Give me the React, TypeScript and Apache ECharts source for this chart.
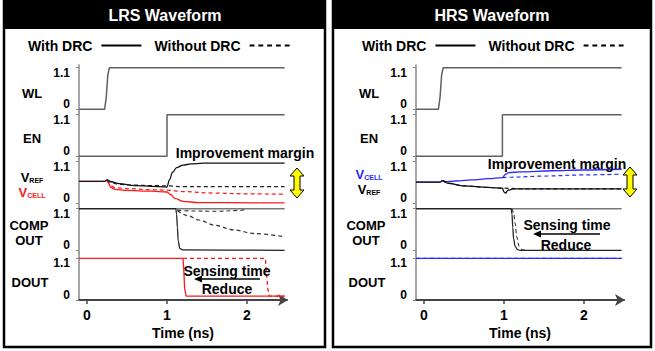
import React, { useEffect, useRef } from 'react';
import * as echarts from 'echarts';

type Pt = [number, number];

const FONT = "'Liberation Sans', Arial, sans-serif";
const X_TICKS = [0, 1, 2];
const Y_TICKS = [0, 1.1];
const LEGEND_NAMES = ['With DRC', 'Without DRC'];
const PANEL_TITLES = ['LRS Waveform', 'HRS Waveform'];
const X_NAME = 'Time (ns)';

// ---------- LRS waveform ----------
const lrsWL: Pt[] = [[-0.1, 0], [0.22, 0], [0.24, 0.3], [0.26, 0.9], [0.28, 1.1], [2.47, 1.1]];
const lrsEN: Pt[] = [[-0.1, 0], [1.0, 0], [1.0, 1.1], [2.47, 1.1]];
const lrsVrefDrc: Pt[] = [[-0.1, 0.58], [0.22, 0.58], [0.25, 0.62], [0.3, 0.57], [0.4, 0.52], [0.6, 0.47], [0.8, 0.45], [1.0, 0.43], [1.03, 0.62], [1.07, 0.82], [1.12, 0.94], [1.2, 1.01], [1.3, 1.04], [1.45, 1.06], [2.47, 1.06]];
const lrsVrefNo: Pt[] = [[0.25, 0.62], [0.3, 0.55], [0.4, 0.5], [0.6, 0.48], [0.8, 0.47], [1.0, 0.46], [1.2, 0.44], [1.5, 0.44], [2.47, 0.44]];
const lrsVcellDrc: Pt[] = [[-0.1, 0.58], [0.22, 0.58], [0.25, 0.6], [0.3, 0.42], [0.35, 0.37], [0.5, 0.34], [0.8, 0.32], [1.0, 0.3], [1.04, 0.24], [1.1, 0.13], [1.2, 0.05], [1.4, 0.02], [2.47, 0.01]];
const lrsVcellNo: Pt[] = [[0.25, 0.6], [0.3, 0.46], [0.35, 0.41], [0.5, 0.39], [0.8, 0.36], [1.0, 0.35], [1.2, 0.31], [1.6, 0.27], [2.0, 0.25], [2.47, 0.24]];
const lrsCompTop: Pt[] = [[-0.1, 1.1], [2.47, 1.1]];
const lrsCompDrc: Pt[] = [[-0.1, 1.1], [1.11, 1.1], [1.12, 0.95], [1.13, 0.6], [1.14, 0.25], [1.16, 0.05], [1.2, 0.01], [2.47, 0]];
const lrsCompNoA: Pt[] = [[1.13, 1.06], [1.3, 1.04], [1.6, 1.03], [1.9, 1.05], [2.0, 1.09]];
const lrsCompNoB: Pt[] = [[1.13, 1.05], [1.25, 0.92], [1.4, 0.8], [1.6, 0.66], [1.83, 0.54], [2.1, 0.44], [2.47, 0.36]];
const lrsDoutDrc: Pt[] = [[-0.1, 1.1], [1.2, 1.1], [1.21, 0.8], [1.22, 0.3], [1.24, 0.1], [2.47, 0.1]];
const lrsDoutNo: Pt[] = [[1.2, 1.1], [2.23, 1.1], [2.24, 0.8], [2.26, 0.3], [2.28, 0.1], [2.47, 0.1]];

// ---------- HRS waveform ----------
const hrsWL: Pt[] = [[-0.1, 0], [0.18, 0], [0.2, 0.3], [0.22, 0.9], [0.24, 1.1], [2.47, 1.1]];
const hrsEN: Pt[] = [[-0.1, 0], [0.98, 0], [0.98, 1.1], [2.47, 1.1]];
const hrsVrefDrc: Pt[] = [[-0.1, 0.56], [0.2, 0.56], [0.23, 0.6], [0.3, 0.53], [0.5, 0.46], [0.8, 0.42], [0.98, 0.4], [1.0, 0.3], [1.02, 0.27], [1.05, 0.35], [1.12, 0.38], [2.47, 0.38]];
const hrsVrefNo: Pt[] = [[0.23, 0.6], [0.3, 0.53], [0.5, 0.46], [0.8, 0.42], [0.98, 0.4], [1.3, 0.38], [2.47, 0.38]];
const hrsVcellDrc: Pt[] = [[-0.1, 0.56], [0.2, 0.56], [0.23, 0.6], [0.27, 0.57], [0.4, 0.59], [0.6, 0.62], [0.8, 0.65], [0.98, 0.68], [1.02, 0.77], [1.06, 0.81], [1.2, 0.83], [1.6, 0.86], [2.0, 0.88], [2.47, 0.9]];
const hrsVcellNo: Pt[] = [[0.98, 0.68], [1.1, 0.69], [1.5, 0.72], [2.0, 0.75], [2.47, 0.77]];
const hrsCompTop: Pt[] = [[-0.1, 1.1], [2.47, 1.1]];
const hrsCompDrc: Pt[] = [[-0.1, 1.1], [1.09, 1.1], [1.1, 0.95], [1.11, 0.6], [1.12, 0.3], [1.14, 0.1], [1.17, 0.02], [1.2, 0], [2.47, 0]];
const hrsCompNo: Pt[] = [[1.1, 1.1], [1.12, 1.0], [1.14, 0.7], [1.16, 0.35], [1.19, 0.1], [1.23, 0.01], [1.3, 0]];
const hrsDoutDrc: Pt[] = [[-0.1, 1.1], [2.47, 1.1]];
const hrsDoutNo: Pt[] = [[-0.1, 1.1], [2.47, 1.1]];

const RED = '#ff1a1a';
const BLUE = '#2a2aff';
const GREY = '#606060';

function line(name: string, data: Pt[], idx: number, color: string, dashed = false, width = 1.3, smooth = false, z = 2) {
  return {
    type: 'line', name, data, xAxisIndex: idx, yAxisIndex: idx,
    symbol: 'none', showSymbol: false, silent: true, z,
    smooth: smooth ? 0.35 : false, smoothMonotone: 'x',
    lineStyle: { color, width, type: dashed ? [4, 3] : 'solid' },
    itemStyle: { color },
  };
}

const TOPS = [65, 112, 159, 206, 253];
const LEFTS = [79, 416];

const sub = (color: string) => ({
  v: { fontSize: 13, fontWeight: 'bold', color, fontFamily: FONT, lineHeight: 15, verticalAlign: 'bottom' },
  s: { fontSize: 7, fontWeight: 'bold', color, fontFamily: FONT, lineHeight: 15, verticalAlign: 'bottom' },
});
const nameRich = {
  v: sub('#000').v, s: sub('#000').s,
  rv: sub(RED).v, rs: sub(RED).s,
  bv: sub(BLUE).v, bs: sub(BLUE).s,
};

const NAMES = [
  ['WL', 'EN', '{v|V}{s|REF}\n{rv|V}{rs|CELL}', 'COMP\nOUT', 'DOUT'],
  ['WL', 'EN', '{bv|V}{bs|CELL}\n{v|V}{s|REF}', 'COMP\nOUT', 'DOUT'],
];
const NAME_PAD = [
  [[9, 0, 0, 0], [5, 0, 0, 0], [2, 0, 0, 0], [7, 0, 0, 0], [11, 0, 0, 0]],
  [[9, 0, 0, 0], [5, 0, 0, 0], [0, 0, 3, 0], [7, 0, 0, 0], [11, 0, 0, 0]],
];

function buildOption() {
  const grid: any[] = [];
  const xAxis: any[] = [];
  const yAxis: any[] = [];
  for (let p = 0; p < 2; p++) {
    for (let i = 0; i < 5; i++) {
      const last = i === 4;
      grid.push({ left: LEFTS[p], top: TOPS[i], width: 208, height: 47 });
      xAxis.push({
        type: 'value', gridIndex: p * 5 + i, min: -0.1, max: 2.5, show: last,
        splitLine: { show: false },
        axisLine: { show: last, onZero: false, symbol: ['none', 'arrow'], symbolSize: [9, 10], symbolOffset: [0, 1], lineStyle: { color: '#444', width: 2 } },
        axisTick: { show: last, customValues: X_TICKS, length: 4, lineStyle: { color: '#444', width: 1.5 } },
        axisLabel: { show: last, customValues: X_TICKS, margin: 8, color: '#000', fontSize: 14, fontWeight: 'bold', fontFamily: FONT },
        name: last ? X_NAME : '', nameLocation: 'middle', nameGap: 26,
        nameTextStyle: { color: '#000', fontSize: 14, fontWeight: 'bold', fontFamily: FONT },
      });
      yAxis.push({
        type: 'value', gridIndex: p * 5 + i,
        min: last ? 0 : -0.07, max: last ? 1.24 : 1.17,
        splitLine: { show: false },
        axisLine: { show: true, onZero: false, lineStyle: { color: '#888', width: 1.5 } },
        axisTick: { show: true, customValues: Y_TICKS, length: 3, lineStyle: { color: '#888', width: 1 } },
        axisLabel: {
          customValues: Y_TICKS, margin: 9,
          formatter: (v: number) => (v > 0.5 ? '{hi|1.1}' : '{lo|0}'),
          rich: {
            hi: { fontSize: 12, fontWeight: 'bold', color: '#000', fontFamily: FONT, lineHeight: 12, padding: [10, 0, 0, 0] },
            lo: { fontSize: 12, fontWeight: 'bold', color: '#000', fontFamily: FONT, lineHeight: 12, padding: [0, 0, 10, 0] },
          },
        },
        name: NAMES[p][i], nameLocation: 'middle', nameRotate: 0, nameGap: 47,
        nameTextStyle: {
          align: 'center', color: '#000', fontSize: 13, fontWeight: 'bold', fontFamily: FONT,
          lineHeight: 15, padding: NAME_PAD[p][i], rich: nameRich,
        },
      });
    }
  }

  const W = LEGEND_NAMES[0];
  const WO = LEGEND_NAMES[1];
  const series: any[] = [
    // LRS
    line(W, lrsWL, 0, GREY, false, 1.5),
    line(W, lrsEN, 1, GREY, false, 1.5),
    line(WO, lrsVcellNo, 2, RED, true, 1.2, true),
    line(W, lrsVcellDrc, 2, RED, false, 1.3, true),
    line(WO, lrsVrefNo, 2, '#222', true, 1.2, true),
    line(W, lrsVrefDrc, 2, '#111', false, 1.3, true),
    line(W, lrsCompTop, 3, '#777', false, 1.5),
    line(WO, lrsCompNoA, 3, '#333', true, 1.1, true),
    line(WO, lrsCompNoB, 3, '#333', true, 1.2, true),
    line(W, lrsCompDrc, 3, '#222', false, 1.3, true),
    line(WO, lrsDoutNo, 4, RED, true, 1.3),
    line(W, lrsDoutDrc, 4, RED, false, 1.3),
    // HRS
    line(W, hrsWL, 5, GREY, false, 1.5),
    line(W, hrsEN, 6, GREY, false, 1.5),
    line(WO, hrsVcellNo, 7, BLUE, true, 1.2, true),
    line(W, hrsVcellDrc, 7, BLUE, false, 1.3, true),
    line(WO, hrsVrefNo, 7, '#222', true, 1.2, true),
    line(W, hrsVrefDrc, 7, '#111', false, 1.3, true),
    line(W, hrsCompTop, 8, '#777', false, 1.5),
    line(WO, hrsCompNo, 8, '#333', true, 1.1, true),
    line(W, hrsCompDrc, 8, '#222', false, 1.3, true),
    line(WO, hrsDoutNo, 9, BLUE, true, 1.3),
    line(W, hrsDoutDrc, 9, BLUE, false, 1.3),
  ];

  const legendData = [
    { name: W, icon: 'rect', itemStyle: { color: '#000', borderWidth: 0 } },
    { name: WO, icon: 'path://M0,0h5v2h-5zM9,0h5v2h-5zM18,0h5v2h-5zM27,0h5v2h-5zM36,0h5v2h-5z', itemStyle: { color: '#000', borderWidth: 0 } },
  ];
  const legendBase = {
    top: 38.5, orient: 'horizontal', align: 'right', itemWidth: 40, itemHeight: 2, itemGap: 13,
    padding: 0, selectedMode: false, data: legendData,
    textStyle: { color: '#000', fontSize: 14, fontWeight: 'bold', fontFamily: FONT, padding: [0, 4, 0, 0] },
  };

  const txt = (text: string, x: number, y: number, size = 14, fill = '#000') => ({
    type: 'text', z: 50, style: {
      text, x, y, fill, font: `bold ${size}px ${FONT}`,
      align: 'center', verticalAlign: 'middle', textAlign: 'center', textVerticalAlign: 'middle',
    },
  });
  const dblArrow = (cx: number, y0: number, y1: number) => ({
    type: 'polygon', z: 50,
    shape: { points: [[cx, y0], [cx + 7, y0 + 8], [cx + 3, y0 + 8], [cx + 3, y1 - 8], [cx + 7, y1 - 8], [cx, y1], [cx - 7, y1 - 8], [cx - 3, y1 - 8], [cx - 3, y0 + 8], [cx - 7, y0 + 8]] },
    style: { fill: '#ffff00', stroke: '#000', lineWidth: 1 },
  });
  const leftArrow = (x0: number, x1: number, y: number) => ([
    { type: 'line', z: 50, shape: { x1: x0 + 6, y1: y, x2: x1, y2: y }, style: { stroke: '#000', lineWidth: 1.3 } },
    { type: 'polygon', z: 50, shape: { points: [[x0, y], [x0 + 8, y - 3.5], [x0 + 8, y + 3.5]] }, style: { fill: '#000' } },
  ]);

  const graphic: any[] = [
    { type: 'rect', z: 40, shape: { x: 4, y: 1, width: 321, height: 346 }, style: { fill: 'none', stroke: '#000', lineWidth: 2.5 } },
    { type: 'rect', z: 40, shape: { x: 4, y: 1, width: 321, height: 28 }, style: { fill: '#000' } },
    txt(PANEL_TITLES[0], 165, 15, 16, '#fff'),
    { type: 'rect', z: 40, shape: { x: 333, y: 1, width: 318, height: 346 }, style: { fill: 'none', stroke: '#000', lineWidth: 2.5 } },
    { type: 'rect', z: 40, shape: { x: 333, y: 1, width: 318, height: 28 }, style: { fill: '#000' } },
    txt(PANEL_TITLES[1], 492, 15, 16, '#fff'),
    // LRS annotations
    txt('Improvement margin', 245, 153),
    dblArrow(297, 168, 198),
    txt('Sensing time', 227, 271),
    ...leftArrow(194, 260, 279),
    txt('Reduce', 227, 289),
    // HRS annotations
    txt('Improvement margin', 557, 164),
    dblArrow(630, 167, 197),
    txt('Sensing time', 567, 225),
    ...leftArrow(533, 600, 234),
    txt('Reduce', 566, 245),
  ];

  return {
    animation: false,
    backgroundColor: '#fff',
    textStyle: { fontFamily: FONT },
    grid, xAxis, yAxis, series,
    legend: [
      { ...legendBase, left: 28 },
      { ...legendBase, left: 362 },
    ],
    graphic,
  };
}

export default function App() {
  const ref = useRef<HTMLDivElement>(null);
  useEffect(() => {
    if (!ref.current) return;
    const chart = echarts.init(ref.current, undefined, { renderer: 'svg' });
    chart.setOption(buildOption() as any);
    return () => chart.dispose();
  }, []);
  return <div ref={ref} style={{ width: 655, height: 351, position: 'absolute', left: 0, top: 0 }} />;
}
